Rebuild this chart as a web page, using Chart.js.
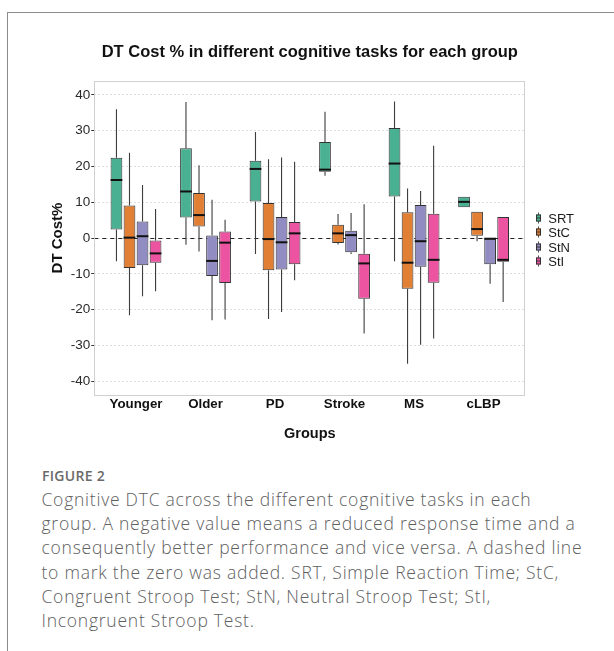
<!DOCTYPE html>
<html>
<head>
<meta charset="utf-8">
<script src="https://cdn.jsdelivr.net/npm/chart.js@4.4.0/dist/chart.umd.min.js"></script>
<style>
html,body{margin:0;padding:0;background:#fff;width:614px;height:651px;overflow:hidden;}
#frame{position:absolute;left:7px;top:12px;width:700px;height:700px;border-left:1.5px solid #8c8c8c;border-top:1.5px solid #8c8c8c;}
#c{position:absolute;left:0;top:0;}
#fig{position:absolute;left:42px;top:468px;font-family:'Open Sans',sans-serif;font-weight:600;font-size:14px;letter-spacing:0.3px;color:#6a6a6a;line-height:16px;}
#cap{position:absolute;left:41.5px;top:487px;font-family:'Open Sans',sans-serif;font-weight:300;font-size:17.5px;letter-spacing:0.76px;line-height:24.2px;color:#606060;white-space:nowrap;}
</style>
</head>
<body>
<div id="frame"></div>
<canvas id="c" width="614" height="460"></canvas>
<div id="fig">FIGURE 2</div>
<div id="cap">Cognitive DTC across the different cognitive tasks in each<br>group. A negative value means a reduced response time and a<br>consequently better performance and vice versa. A dashed line<br>to mark the zero was added. SRT, Simple Reaction Time; StC,<br>Congruent Stroop Test; StN, Neutral Stroop Test; StI,<br>Incongruent Stroop Test.</div>
<script>
// ---- data ----
const groups = ['Younger', 'Older', 'PD', 'Stroke', 'MS', 'cLBP'];
const tasks = ['SRT', 'StC', 'StN', 'StI'];
const yTickValues = [-40, -30, -20, -10, 0, 10, 20, 30, 40];

const srtLow  = [-6.5, -1.9, -4.5, 17.4, -6.5, 8.6];
const srtQ1   = [2.4, 5.7, 10.2, 18.5, 11.6, 8.6];
const srtMed  = [16.2, 13.0, 19.3, 19.1, 20.8, 10.1];
const srtQ3   = [22.4, 25.1, 21.6, 26.8, 30.7, 11.5];
const srtHigh = [36.0, 38.0, 29.6, 35.3, 38.1, 11.5];

const stcLow  = [-21.6, -3.8, -22.6, -1.8, -35.1, -0.9];
const stcQ1   = [-8.4, 3.2, -9.0, -1.4, -14.2, 0.6];
const stcMed  = [0.1, 6.4, -0.3, 1.3, -6.9, 2.5];
const stcQ3   = [9.1, 12.6, 9.8, 3.7, 7.2, 7.3];
const stcHigh = [23.8, 20.3, 22.0, 6.7, 13.8, 7.3];

const stnLow  = [-16.3, -23.0, -20.7, -4.5, -29.8, -12.8];
const stnQ1   = [-7.6, -10.6, -8.8, -4.0, -8.0, -7.3];
const stnMed  = [0.5, -6.4, -1.2, 0.8, -0.9, -0.2];
const stnQ3   = [4.6, 0.7, 5.9, 2.0, 9.2, -0.2];
const stnHigh = [14.8, 10.7, 22.5, 7.0, 13.1, -0.2];

const stiLow  = [-14.9, -22.8, -11.8, -26.7, -28.1, -17.9];
const stiQ1   = [-6.9, -12.6, -7.3, -17.0, -12.5, -6.6];
const stiMed  = [-4.3, -1.3, 1.3, -7.1, -6.1, -6.1];
const stiQ3   = [-0.7, 1.8, 4.5, -4.4, 6.8, 5.9];
const stiHigh = [8.1, 5.1, 21.3, 9.4, 25.8, 5.9];

const taskColors = ['#49B192', '#E17F35', '#918DC2', '#EC54A1'];

// ---- build ----
const stats = [
  [srtLow, srtQ1, srtMed, srtQ3, srtHigh],
  [stcLow, stcQ1, stcMed, stcQ3, stcHigh],
  [stnLow, stnQ1, stnMed, stnQ3, stnHigh],
  [stiLow, stiQ1, stiMed, stiQ3, stiHigh]
];

const datasets = tasks.map((t, k) => {
  const [lo, q1, md, q3, hi] = stats[k];
  return {
    label: t,
    data: groups.map((g, i) => ({ x: i + 1, y: [q1[i], q3[i]] })),
    whiskerLow: lo, whiskerHigh: hi, medians: md,
    backgroundColor: taskColors[k],
    borderColor: '#333333',
    borderWidth: 1,
    borderSkipped: false,
    categoryPercentage: 0.75,
    barPercentage: 0.9
  };
});

const boxExtras = {
  id: 'boxExtras',
  beforeDatasetsDraw(chart) {
    const { ctx, chartArea: a, scales: { y } } = chart;
    const y0 = y.getPixelForValue(0);
    ctx.save();
    ctx.strokeStyle = '#222';
    ctx.lineWidth = 1;
    ctx.setLineDash([4, 4]);
    ctx.beginPath();
    ctx.moveTo(a.left, Math.round(y0) + 0.5);
    ctx.lineTo(a.right, Math.round(y0) + 0.5);
    ctx.stroke();
    ctx.setLineDash([]);
    ctx.strokeStyle = '#3d3d3d';
    ctx.lineWidth = 1.1;
    chart.data.datasets.forEach((ds, d) => {
      const meta = chart.getDatasetMeta(d);
      meta.data.forEach((bar, i) => {
        const x = bar.x;
        const [q1, q3] = ds.data[i].y;
        ctx.beginPath();
        ctx.moveTo(x, y.getPixelForValue(ds.whiskerHigh[i]));
        ctx.lineTo(x, y.getPixelForValue(q3));
        ctx.moveTo(x, y.getPixelForValue(q1));
        ctx.lineTo(x, y.getPixelForValue(ds.whiskerLow[i]));
        ctx.stroke();
      });
    });
    ctx.restore();
  },
  afterDatasetsDraw(chart) {
    const { ctx, scales: { y } } = chart;
    ctx.save();
    ctx.strokeStyle = '#111';
    ctx.lineWidth = 2;
    chart.data.datasets.forEach((ds, d) => {
      const meta = chart.getDatasetMeta(d);
      meta.data.forEach((bar, i) => {
        const py = y.getPixelForValue(ds.medians[i]);
        ctx.beginPath();
        ctx.moveTo(bar.x - bar.width / 2, py);
        ctx.lineTo(bar.x + bar.width / 2, py);
        ctx.stroke();
      });
    });
    ctx.restore();
  },
  afterDraw(chart) {
    const { ctx, chartArea: a } = chart;
    ctx.save();
    ctx.strokeStyle = '#d0d0d0';
    ctx.lineWidth = 1;
    ctx.strokeRect(Math.round(a.left) + 0.5, Math.round(a.top) + 0.5,
                   Math.round(a.right - a.left) - 1, Math.round(a.bottom - a.top) - 1);
    // legend
    const midY = (a.top + a.bottom) / 2;
    ctx.font = "13px 'Liberation Sans', Arial, sans-serif";
    ctx.textBaseline = 'middle';
    ctx.textAlign = 'left';
    chart.data.datasets.forEach((ds, k) => {
      const cy = Math.round(midY + (k - 1.5) * 14.25 + 1.5);
      const cx = Math.round(a.right + 13);
      ctx.strokeStyle = '#4d4d4d';
      ctx.lineWidth = 1;
      ctx.beginPath();
      ctx.moveTo(cx + 0.5, cy - 5.5);
      ctx.lineTo(cx + 0.5, cy + 5.5);
      ctx.stroke();
      ctx.fillStyle = ds.backgroundColor;
      ctx.fillRect(cx - 2, cy - 3.5, 5, 7);
      ctx.strokeStyle = '#333';
      ctx.strokeRect(cx - 2 + 0.5, cy - 3.5 + 0.5, 4, 6);
      ctx.beginPath();
      ctx.moveTo(cx - 2, cy);
      ctx.lineTo(cx + 3, cy);
      ctx.stroke();
      ctx.fillStyle = '#1a1a1a';
      ctx.fillText(ds.label, a.right + 23, cy + 1);
    });
    ctx.restore();
  }
};

Chart.defaults.font.family = "'Liberation Sans', Arial, sans-serif";
Chart.defaults.color = '#222';

new Chart(document.getElementById('c'), {
  type: 'bar',
  data: { datasets },
  options: {
    responsive: false,
    animation: false,
    devicePixelRatio: 1,
    layout: { padding: { left: 0, right: 88.7, top: 43, bottom: 10 } },
    plugins: {
      legend: { display: false },
      tooltip: { enabled: false },
      title: {
        display: true,
        text: 'DT Cost % in different cognitive tasks for each group',
        fullSize: false,
        color: '#111',
        font: { size: 16.5, weight: 'bold' },
        padding: { top: 0, bottom: 17.7 }
      }
    },
    scales: {
      x: {
        type: 'linear',
        offset: false,
        min: 0.4,
        max: 6.6,
        grid: { display: false, offset: false, drawTicks: false, tickLength: 0 },
        border: { display: false },
        afterBuildTicks(scale) { scale.ticks = groups.map((g, i) => ({ value: i + 1 })); },
        afterFit(scale) { scale.height = 54.5; },
        ticks: {
          autoSkip: false,
          maxRotation: 0,
          padding: 1,
          color: '#111',
          font: { size: 13.3, weight: 'bold' },
          callback: (v) => groups[Math.round(v) - 1]
        },
        title: {
          display: true,
          text: 'Groups',
          color: '#111',
          font: { size: 14.5, weight: 'bold' },
          padding: { top: 4, bottom: 7 }
        }
      },
      y: {
        type: 'linear',
        min: -44,
        max: 44,
        afterBuildTicks(scale) { scale.ticks = yTickValues.map(v => ({ value: v })); },
        afterFit(scale) { scale.width = 94.3; },
        grid: {
          color: '#dedede',
          lineWidth: 1,
          drawTicks: true,
          tickLength: 3,
          tickColor: '#333',
          tickWidth: 1,
          tickBorderDash: []
        },
        border: { display: false, dash: [2, 2] },
        ticks: {
          padding: 1,
          color: '#2a2a2a',
          font: { size: 13.5 }
        },
        title: {
          display: true,
          text: 'DT Cost%',
          color: '#111',
          font: { size: 15, weight: 'bold' },
          padding: { top: 49, bottom: 0 }
        }
      }
    }
  },
  plugins: [boxExtras]
});
</script>
</body>
</html>
